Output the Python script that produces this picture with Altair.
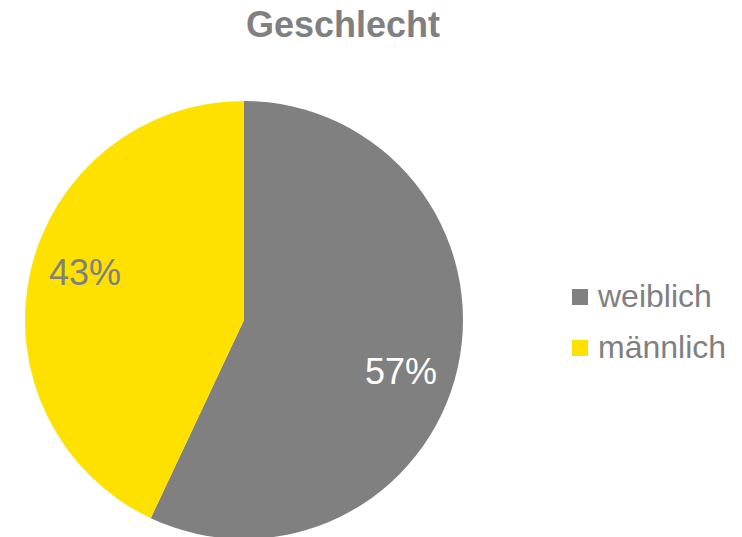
import altair as alt
import pandas as pd

categories = ["weiblich", "männlich"]
values = [57, 43]
labels = ["57%", "43%"]
label_colors = ["#FFFFFF", "#808080"]
colors = ["#808080", "#FFE100"]

df = pd.DataFrame({"Geschlecht": categories, "Wert": values, "Label": labels,
                   "LabelColor": label_colors, "order": [0, 1]})

CX, CY = 236, 312
theta_scale = alt.Scale(domain=[0, 100])

pie = alt.Chart(df).mark_arc(radius=219, x=CX, y=CY).encode(
    theta=alt.Theta("Wert:Q", stack=True, scale=theta_scale),
    order=alt.Order("order:Q"),
    color=alt.Color("Geschlecht:N",
                    scale=alt.Scale(domain=categories, range=colors),
                    legend=alt.Legend(title=None, orient="none", legendX=556, legendY=273,
                                      symbolType="square", symbolSize=256,
                                      symbolStrokeWidth=0,
                                      labelFont="Liberation Sans", labelFontSize=32,
                                      labelColor="#808080", labelOffset=2,
                                      rowPadding=19, padding=0)),
)

def label_layer(cat, dx, dy):
    return alt.Chart(df).transform_window(
        cum="sum(Wert)", sort=[alt.SortField("order")]
    ).transform_calculate(
        mid="datum.cum - datum.Wert / 2"
    ).transform_filter(
        alt.datum.Geschlecht == cat
    ).mark_text(radius=165, x=CX, y=CY, font="Liberation Sans", fontSize=36,
                align="center", baseline="middle", dx=dx, dy=dy).encode(
        theta=alt.Theta("mid:Q", stack=None, scale=theta_scale),
        text="Label:N",
        color=alt.Color("LabelColor:N", scale=None),
    )

text_w = label_layer("weiblich", -4, 17)
text_m = label_layer("männlich", 2, -10)

chart = (pie + text_w + text_m).properties(
    width=726, height=529,
    autosize=alt.AutoSizeParams(type="none"),
    padding=0,
    title=alt.TitleParams("Geschlecht", font="Liberation Sans", fontSize=36,
                          fontWeight="bold", color="#808080", anchor="middle",
                          dx=-28, dy=41),
).configure_view(stroke=None)

chart.save("out.html", embed_options={"renderer": "svg", "actions": False})
